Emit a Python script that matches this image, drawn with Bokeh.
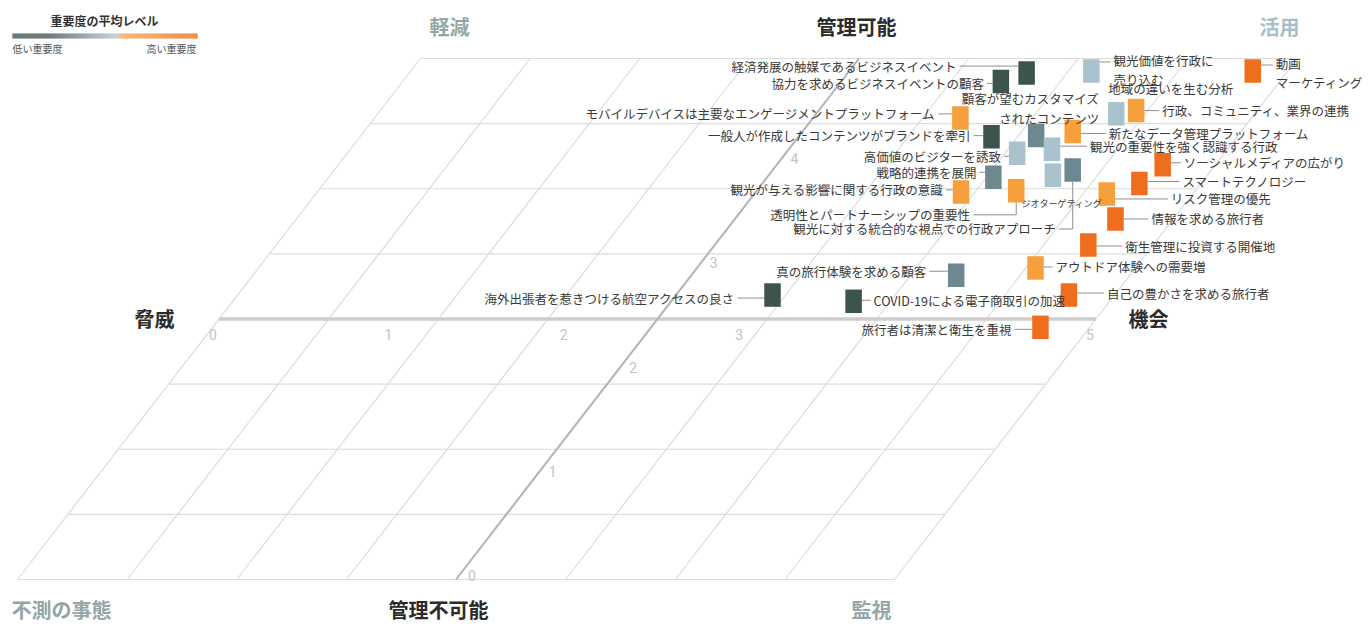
import numpy as np
from bokeh.plotting import figure
from bokeh.models import Range1d, ColumnDataSource
from bokeh.embed import file_html
from bokeh.resources import INLINE
from bokeh.core.properties import value

# ---------------- data ----------------
trends = [
    "経済発展の触媒であるビジネスイベント",
    "協力を求めるビジネスイベントの顧客",
    "観光価値を行政に\n売り込む",
    "動画\nマーケティング",
    "地域の違いを生む分析",
    "行政、コミュニティ、業界の連携",
    "顧客が望むカスタマイズ\nされたコンテンツ",
    "モバイルデバイスは主要なエンゲージメントプラットフォーム",
    "一般人が作成したコンテンツがブランドを牽引",
    "新たなデータ管理プラットフォーム",
    "観光の重要性を強く認識する行政",
    "高価値のビジターを誘致",
    "戦略的連携を展開",
    "ジオターゲティング",
    "観光に対する統合的な視点での行政アプローチ",
    "観光が与える影響に関する行政の意識",
    "透明性とパートナーシップの重要性",
    "リスク管理の優先",
    "ソーシャルメディアの広がり",
    "スマートテクノロジー",
    "情報を求める旅行者",
    "衛生管理に投資する開催地",
    "アウトドア体験への需要増",
    "自己の豊かさを求める旅行者",
    "旅行者は清潔と衛生を重視",
    "真の旅行体験を求める顧客",
    "海外出張者を惹きつける航空アクセスの良さ",
    "COVID-19による電子商取引の加速",
]
threat_to_opportunity = [3.52, 3.41, 3.88, 4.80, 4.21, 4.31, 3.85, 3.34, 3.60, 4.04,
                         4.00, 3.82, 3.79, 4.12, 4.21, 3.67, 3.98, 4.51, 4.70, 4.65,
                         4.67, 4.63, 4.43, 4.74, 4.72, 4.01, 3.05, 3.54]
controllability = [4.86, 4.78, 4.88, 4.88, 4.47, 4.50, 4.26, 4.43, 4.25, 4.30,
                   4.13, 4.09, 3.86, 3.88, 3.93, 3.72, 3.73, 3.70, 3.98, 3.80,
                   3.46, 3.21, 2.99, 2.73, 2.42, 2.92, 2.73, 2.67]
importance_level = [1, 1, 3, 5, 3, 4, 2, 4, 1, 4,
                    3, 3, 2, 3, 2, 4, 4, 4, 5, 5,
                    5, 5, 4, 5, 5, 2, 1, 1]
importance_palette = ["#3d544e", "#6d8891", "#a9c2ce", "#f5a03c", "#ee6e1e"]

x_tick_values = [0, 1, 2, 3, 5]
y_tick_values = [0, 1, 2, 3, 4]

legend_title = "重要度の平均レベル"
legend_low = "低い重要度"
legend_high = "高い重要度"

quadrant_names = ["軽減", "管理可能", "活用", "脅威", "機会", "不測の事態", "管理不可能", "監視"]

# ---------------- layout (screen px) ----------------
PXX, PXY = 175.4, 104.2          # px per unit
OX, OY = 17.0, 579.0              # screen position of (0,0)
SKEW = 80.6 / PXX                 # horizontal shift per unit of controllability
W, H = 1365, 627
OFF = 0


def su(px):
    return (px - OX) / PXX


def sv(py):
    return (OY - py) / PXY


def proj(x, y):
    return x + SKEW * y, y


p = figure(width=W, height=H, output_backend="svg", toolbar_location=None,
           x_range=Range1d(su(OFF), su(OFF + W)), y_range=Range1d(sv(OFF + H), sv(OFF)),
           min_border=0, x_axis_location=None, y_axis_location=None)
p.outline_line_color = None
p.xgrid.visible = False
p.ygrid.visible = False
p.background_fill_color = "white"

JP = value("Noto Sans CJK JP")

# ---------------- skewed grid ----------------
g = np.linspace(0, 5, 9)
xs, ys = [], []
for v in g:
    a, b = proj(0, v), proj(5, v)
    xs.append([a[0], b[0]]); ys.append([a[1], b[1]])
    a, b = proj(v, 0), proj(v, 5)
    xs.append([a[0], b[0]]); ys.append([a[1], b[1]])
p.multi_line(xs, ys, line_color="#dcdcdc", line_width=1.2)

a, b = proj(0, 2.5), proj(5, 2.5)
p.line([a[0], b[0]], [a[1], b[1]], line_color="#cdcdcd", line_width=3.5)
a, b = proj(2.5, 0), proj(2.5, 5)
p.line([a[0], b[0]], [a[1], b[1]], line_color="#b3b3b3", line_width=2)

# tick labels
tx = [proj(t, 2.5)[0] - 6 / PXX for t in x_tick_values]
ty = [2.5 - 15 / PXY for t in x_tick_values]
p.text(tx, ty, text=[str(t) for t in x_tick_values], text_align="center", text_baseline="middle",
       text_color="#c4c4c4", text_font_size="14px", text_font=value("Roboto"))
tx = [proj(2.5, t)[0] + 16 / PXX for t in y_tick_values]
ty = [t + 4 / PXY for t in y_tick_values]
p.text(tx, ty, text=[str(t) for t in y_tick_values], text_align="center", text_baseline="middle",
       text_color="#c4c4c4", text_font_size="14px", text_font=value("Roboto"))

# ---------------- points ----------------
u = [proj(x, y)[0] for x, y in zip(threat_to_opportunity, controllability)]
v = list(controllability)
colors = [importance_palette[l - 1] for l in importance_level]

# label layout: (dx, dy, align, leader)
lay = [(-70, -7, "right", -7), (-17, 2, "right", 2), (22, -1, "left", -9), (23, 2, "left", -6),
       (-8, -25, "left", None), (26, 0, "left", 0), (63, -27, "right", None), (-25, -4, "right", -4),
       (-21, -1, "right", -1), (36, 2, "left", 2), (38, -3, "left", -3), (-16, 3, "right", 3),
       (-17, -5, "right", -5), (9, 28, "center", None), (-17, 59, "right", "L"), (-18, -2, "right", -2),
       (-46, 24, "right", "L"), (64, 5, "left", 5), (21, -2, "left", -2), (43, -2, "left", -2),
       (36, 0, "left", 0), (37, 1, "left", 1), (20, -1, "left", -1), (38, -2, "left", -2),
       (-29, 2, "right", 2), (-30, -4, "right", -4), (-38, 3, "right", 3), (20, -1, "left", -1)]
HW, HH = 8.25, 11.75

lx, ly, la, lsize = [], [], [], []
lead_x, lead_y = [], []
for i, (dx, dy, al, ld) in enumerate(lay):
    cu, cv = u[i], v[i]
    lx.append(cu + dx / PXX); ly.append(cv - dy / PXY); la.append(al)
    lsize.append("9px" if trends[i] == "ジオターゲティング" else "12.5px")
    if ld is None:
        continue
    if ld == "L":
        lead_x.append([cu + (dx + 3) / PXX, cu, cu])
        lead_y.append([cv - dy / PXY, cv - dy / PXY, cv - HH / PXY])
    else:
        sgn = 1 if al == "left" else -1
        lead_x.append([cu + sgn * HW / PXX, cu + (dx - sgn * 3) / PXX])
        lead_y.append([cv - ld / PXY, cv - ld / PXY])

p.multi_line(lead_x, lead_y, line_color="#8f8f8f", line_width=1)
p.rect(u, v, width=2 * HW, height=2 * HH, width_units="screen", height_units="screen",
       fill_color=colors, line_color=None)
src = ColumnDataSource(dict(x=lx, y=ly, t=trends, a=la, s=lsize))
p.text("x", "y", text="t", source=src, text_align="a", text_baseline="middle",
       text_font_size="s", text_color="#3a3a3a", text_font=JP, text_line_height=1.05)

# ---------------- quadrant / axis names ----------------
qpos = [(449, 26), (856, 26), (1279, 26), (154, 318), (1148, 318), (61, 609), (438, 609), (871, 609)]
qcol = ["#93a6a6", "#2b2b2b", "#a6bdca", "#2b2b2b", "#2b2b2b", "#93a6a6", "#2b2b2b", "#93a6a6"]
p.text([su(x) for x, _ in qpos], [sv(y) for _, y in qpos], text=quadrant_names,
       text_align="center", text_baseline="middle", text_font_size="20px",
       text_font_style="bold", text_color=qcol, text_font=JP)

# ---------------- legend ----------------
stops = [(12, "#3d544e"), (47, "#40574f"), (87, "#8096a0"), (117, "#b7cad3"),
         (119, "#f6a452"), (197, "#ee6a14")]


def hex2rgb(h):
    return np.array([int(h[k:k + 2], 16) for k in (1, 3, 5)], dtype=float)


segs = np.arange(12, 197, 1.0)
cols = []
for sx in segs:
    for (x0, c0), (x1, c1) in zip(stops[:-1], stops[1:]):
        if x0 <= sx <= x1:
            t = (sx - x0) / (x1 - x0)
            c = hex2rgb(c0) * (1 - t) + hex2rgb(c1) * t
            cols.append("#%02x%02x%02x" % tuple(int(round(k)) for k in c))
            break
p.quad(left=[su(s) for s in segs], right=[su(s + 1.05) for s in segs],
       bottom=[sv(38)] * len(segs), top=[sv(33)] * len(segs), fill_color=cols, line_color=None)
p.text([su(104)], [sv(20)], text=[legend_title], text_align="center", text_baseline="middle",
       text_font_size="12px", text_font_style="bold", text_color="#333333", text_font=JP)
p.text([su(12), su(196)], [sv(48), sv(48)], text=[legend_low, legend_high],
       text_align=["left", "right"], text_baseline="middle", text_font_size="10px",
       text_color="#555555", text_font=JP)

open("out.html", "w").write(file_html(p, INLINE))
